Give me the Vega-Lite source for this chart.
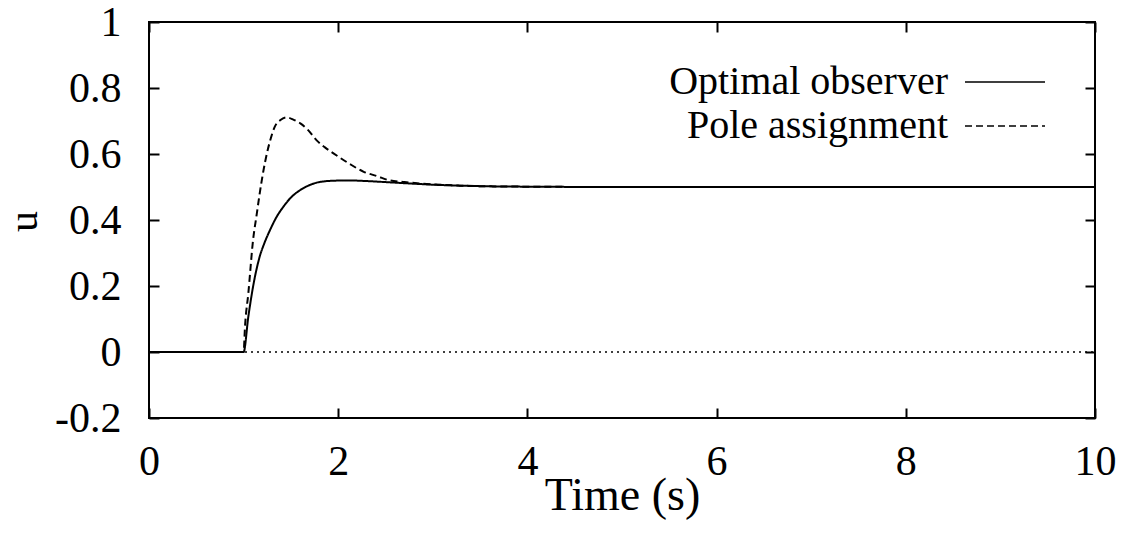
{
  "$schema": "https://vega.github.io/schema/vega-lite/v6.json",
  "width": 946,
  "height": 396,
  "autosize": {"type": "none"},
  "padding": {"left": 149, "top": 22, "right": 36, "bottom": 117},
  "background": "white",
  "config": {
    "font": "Liberation Serif",
    "view": {"stroke": "black", "strokeWidth": 2},
    "axis": {
      "domain": false,
      "grid": false,
      "tickColor": "black",
      "tickWidth": 2,
      "tickSize": -10,
      "labelFlush": false,
      "labelColor": "black",
      "labelFont": "Liberation Serif",
      "labelFontSize": 42,
      "titleFont": "Liberation Serif",
      "titleFontSize": 42,
      "titleFontWeight": "normal",
      "titleColor": "black"
    }
  },
  "datasets": {
    "curves": [
      {"t": 0, "u": 0, "series": "Optimal observer"},
      {"t": 1, "u": 0, "series": "Optimal observer"},
      {"t": 1.05, "u": 0.107, "series": "Optimal observer"},
      {"t": 1.1, "u": 0.198, "series": "Optimal observer"},
      {"t": 1.17, "u": 0.289, "series": "Optimal observer"},
      {"t": 1.22, "u": 0.33, "series": "Optimal observer"},
      {"t": 1.28, "u": 0.37, "series": "Optimal observer"},
      {"t": 1.35, "u": 0.41, "series": "Optimal observer"},
      {"t": 1.42, "u": 0.44, "series": "Optimal observer"},
      {"t": 1.5, "u": 0.468, "series": "Optimal observer"},
      {"t": 1.6, "u": 0.491, "series": "Optimal observer"},
      {"t": 1.7, "u": 0.506, "series": "Optimal observer"},
      {"t": 1.77, "u": 0.513, "series": "Optimal observer"},
      {"t": 1.85, "u": 0.517, "series": "Optimal observer"},
      {"t": 1.95, "u": 0.519, "series": "Optimal observer"},
      {"t": 2.1, "u": 0.52, "series": "Optimal observer"},
      {"t": 2.3, "u": 0.518, "series": "Optimal observer"},
      {"t": 2.55, "u": 0.514, "series": "Optimal observer"},
      {"t": 2.8, "u": 0.51, "series": "Optimal observer"},
      {"t": 3.0, "u": 0.507, "series": "Optimal observer"},
      {"t": 3.3, "u": 0.504, "series": "Optimal observer"},
      {"t": 3.6, "u": 0.502, "series": "Optimal observer"},
      {"t": 4.0, "u": 0.501, "series": "Optimal observer"},
      {"t": 5.0, "u": 0.5, "series": "Optimal observer"},
      {"t": 10.0, "u": 0.5, "series": "Optimal observer"},
      {"t": 0, "u": 0, "series": "Pole assignment"},
      {"t": 1, "u": 0, "series": "Pole assignment"},
      {"t": 1.015, "u": 0.078, "series": "Pole assignment"},
      {"t": 1.05, "u": 0.178, "series": "Pole assignment"},
      {"t": 1.1, "u": 0.339, "series": "Pole assignment"},
      {"t": 1.14, "u": 0.42, "series": "Pole assignment"},
      {"t": 1.17, "u": 0.48, "series": "Pole assignment"},
      {"t": 1.21, "u": 0.55, "series": "Pole assignment"},
      {"t": 1.245, "u": 0.6, "series": "Pole assignment"},
      {"t": 1.29, "u": 0.65, "series": "Pole assignment"},
      {"t": 1.33, "u": 0.683, "series": "Pole assignment"},
      {"t": 1.39, "u": 0.703, "series": "Pole assignment"},
      {"t": 1.455, "u": 0.711, "series": "Pole assignment"},
      {"t": 1.52, "u": 0.705, "series": "Pole assignment"},
      {"t": 1.6, "u": 0.693, "series": "Pole assignment"},
      {"t": 1.68, "u": 0.673, "series": "Pole assignment"},
      {"t": 1.77, "u": 0.642, "series": "Pole assignment"},
      {"t": 1.86, "u": 0.62, "series": "Pole assignment"},
      {"t": 1.95, "u": 0.602, "series": "Pole assignment"},
      {"t": 2.11, "u": 0.572, "series": "Pole assignment"},
      {"t": 2.27, "u": 0.546, "series": "Pole assignment"},
      {"t": 2.41, "u": 0.533, "series": "Pole assignment"},
      {"t": 2.53, "u": 0.521, "series": "Pole assignment"},
      {"t": 2.7, "u": 0.515, "series": "Pole assignment"},
      {"t": 3.0, "u": 0.508, "series": "Pole assignment"},
      {"t": 3.3, "u": 0.504, "series": "Pole assignment"},
      {"t": 3.6, "u": 0.502, "series": "Pole assignment"},
      {"t": 4.0, "u": 0.501, "series": "Pole assignment"},
      {"t": 5.0, "u": 0.5, "series": "Pole assignment"},
      {"t": 10.0, "u": 0.5, "series": "Pole assignment"}
    ],
    "zero": [{"t": 0, "u": 0}, {"t": 10, "u": 0}]
  },
  "layer": [
    {
      "data": {"name": "zero"},
      "mark": {"type": "line", "stroke": "black", "strokeWidth": 1.5, "strokeDash": [2, 4]},
      "encoding": {
        "x": {"field": "t", "type": "quantitative", "scale": {"domain": [0, 10], "nice": false},
              "axis": {"orient": "top", "labels": false, "title": null, "values": [0, 2, 4, 6, 8, 10]}},
        "y": {"field": "u", "type": "quantitative", "scale": {"domain": [-0.2, 1], "nice": false, "zero": false},
              "axis": {"orient": "right", "labels": false, "title": null, "values": [-0.2, 0, 0.2, 0.4, 0.6, 0.8, 1]}}
      }
    },
    {
      "data": {"name": "curves"},
      "mark": {"type": "line", "interpolate": "monotone", "color": "black", "strokeWidth": 2},
      "encoding": {
        "x": {"field": "t", "type": "quantitative",
              "axis": {"orient": "bottom", "title": "Time (s)", "values": [0, 2, 4, 6, 8, 10], "labelPadding": 33,
                       "titleFontSize": 46, "titleX": 473, "titleY": 91, "titleBaseline": "alphabetic", "titleAlign": "center"}},
        "y": {"field": "u", "type": "quantitative",
              "axis": {"orient": "left", "title": "u", "values": [-0.2, 0, 0.2, 0.4, 0.6, 0.8, 1], "labelPadding": 38,
                       "titleX": -126, "titleY": 199, "titleBaseline": "middle", "titleAlign": "center", "titleAngle": 270,
                       "labelExpr": "datum.value == 0 ? '0' : datum.value == 1 ? '1' : datum.value < 0 ? '-' + format(-datum.value, '.1f') : format(datum.value, '.1f')"}},
        "strokeDash": {"field": "series", "type": "nominal",
                       "scale": {"domain": ["Optimal observer", "Pole assignment"], "range": [[1, 0], [7, 4]]},
                       "legend": {"orient": "none", "legendX": 836, "legendY": 40, "title": null, "padding": 0,
                                  "symbolType": "M-4,0H4", "symbolSize": 400, "symbolStrokeWidth": 1.5, "symbolStrokeColor": "black",
                                  "symbolFillColor": "transparent",
                                  "labelFont": "Liberation Serif", "labelFontSize": 40, "labelColor": "black", "labelLimit": 600,
                                  "labelAlign": "right", "labelOffset": -77, "rowPadding": 4}}
      }
    }
  ],
  "resolve": {"axis": {"x": "independent", "y": "independent"}}
}
